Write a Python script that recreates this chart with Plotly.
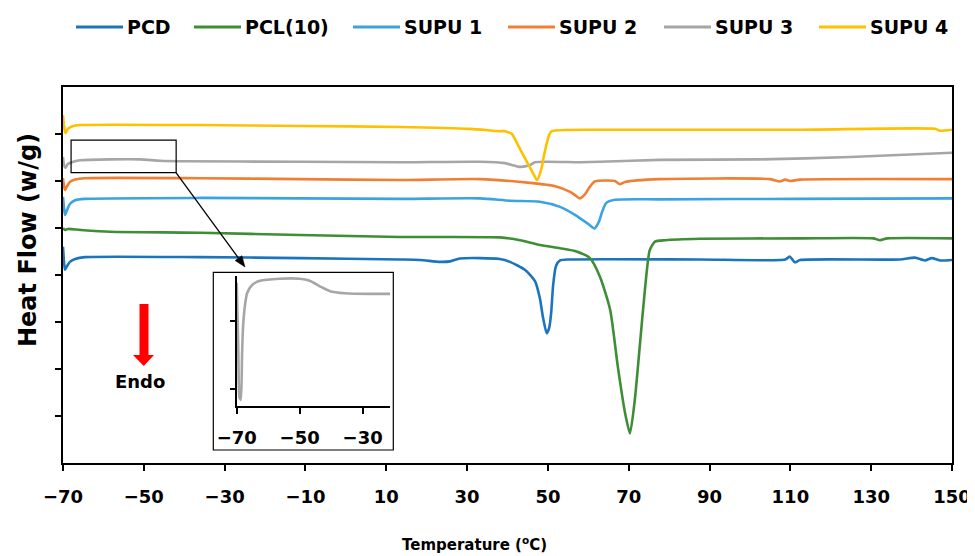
import plotly.graph_objects as go

# ---------------- data ----------------
series_names = ["PCD", "PCL(10)", "SUPU 1", "SUPU 2", "SUPU 3", "SUPU 4"]
series_colors = ["#1B75BC", "#3E8E35", "#3BA3E0", "#F07F33", "#A6A6A6", "#FFC000"]

pcd_temp = [-70, -69.75, -69.5, -69.0, -68.3, -67.0, -64.6, -36.1, -11.4, 13.4, 18.3, 23.3, 25.8, 28.2,
            33.2, 38.1, 40.6, 44.3, 46.8, 48.0, 48.8, 49.7, 50.3, 50.8, 51.3, 52.0, 53.0, 55.5, 87.6,
            108.7, 109.9, 111.1, 112.4, 137.1, 140.8, 143.3, 145.0, 147.0, 150]
pcd_heat = [4.60, 4.28, 4.11, 4.19, 4.28, 4.34, 4.38, 4.38, 4.36, 4.33, 4.32, 4.28, 4.29, 4.35,
            4.36, 4.34, 4.28, 4.11, 3.87, 3.51, 3.09, 2.76, 2.87, 3.19, 3.79, 4.19, 4.31, 4.33, 4.33,
            4.33, 4.39, 4.27, 4.32, 4.33, 4.37, 4.31, 4.36, 4.31, 4.32]

pcl_temp = [-70, -69.5, -68.8, -65.8, -58.4, -36.1, -11.4, 13.4, 38.1, 43.1, 48.0, 53.0, 56.7, 60.4,
            62.9, 65.4, 67.3, 69.1, 70.3, 71.5, 72.8, 74.0, 75.2, 76.5, 79.0, 87.6, 112.4, 130.5,
            132.2, 134.0, 150]
pcl_heat = [5.00, 4.96, 4.98, 4.96, 4.92, 4.90, 4.85, 4.81, 4.80, 4.74, 4.64, 4.57, 4.51, 4.36,
            3.96, 3.26, 2.05, 1.06, 0.63, 1.34, 2.55, 3.68, 4.53, 4.71, 4.74, 4.77, 4.78, 4.78,
            4.74, 4.78, 4.78]

supu1_temp = [-70, -69.75, -69.5, -69.0, -68.3, -67.0, -64.6, -36.1, -11.4, 13.4, 33.2, 40.6, 48.0,
              53.0, 56.7, 59.9, 61.5, 62.6, 63.4, 64.4, 66.6, 77.7, 112.4, 150]
supu1_heat = [5.66, 5.43, 5.28, 5.38, 5.51, 5.59, 5.62, 5.64, 5.63, 5.62, 5.63, 5.58, 5.56,
              5.45, 5.28, 5.09, 4.99, 5.13, 5.34, 5.53, 5.60, 5.61, 5.62, 5.63]

supu2_temp = [-70, -69.75, -69.5, -69.0, -68.3, -67.0, -64.6, -36.1, -11.4, 13.4, 33.2, 45.6, 51.8,
              55.5, 57.0, 57.9, 59.2, 60.4, 61.6, 66.6, 67.8, 69.1, 77.7, 105.0, 107.4, 108.7,
              109.9, 112.4, 150]
supu2_heat = [6.06, 5.89, 5.81, 5.89, 5.98, 6.03, 6.06, 6.06, 6.04, 6.02, 6.04, 5.96, 5.89,
              5.77, 5.68, 5.63, 5.72, 5.88, 5.99, 6.00, 5.93, 5.98, 6.04, 6.04, 5.99, 6.03,
              6.00, 6.03, 6.04]

supu3_temp = [-70, -69.75, -69.4, -68.8, -67.8, -65.8, -58.4, -50.9, -46.0, -41.0, -11.4, 13.4, 33.2,
              39.4, 43.1, 45.6, 46.8, 57.9, 62.9, 77.7, 102.5, 124.8, 150]
supu3_heat = [6.51, 6.34, 6.28, 6.36, 6.40, 6.44, 6.46, 6.46, 6.43, 6.42, 6.41, 6.40, 6.41,
              6.38, 6.30, 6.34, 6.40, 6.40, 6.41, 6.45, 6.46, 6.51, 6.60]

supu4_temp = [-70, -69.75, -69.4, -68.8, -67.8, -65.8, -36.1, -11.4, 13.4, 30.7, 38.1, 39.4, 40.1,
              41.1, 43.1, 45.1, 46.3, 47.3, 48.3, 49.0, 49.8, 50.3, 51.0, 62.9, 112.4, 145.8,
              147.0, 150]
supu4_heat = [7.40, 7.17, 7.02, 7.11, 7.16, 7.19, 7.19, 7.17, 7.15, 7.11, 7.06, 7.06, 7.04,
              7.00, 6.68, 6.36, 6.17, 6.02, 6.23, 6.53, 6.83, 6.98, 7.06, 7.09, 7.09, 7.11,
              7.07, 7.09]

# inset: magnified start of SUPU 3
inset_temp = [-70, -69.5, -69.1, -68.7, -68.3, -68.0, -67.3, -66.7, -65.1, -62.6, -56.3, -50.0,
              -46.8, -43.6, -40.4, -35.6, -27.7, -21.3]
inset_heat = [1.55, 0.60, -0.12, -0.15, 0.50, 0.90, 1.25, 1.40, 1.52, 1.58, 1.61, 1.61,
              1.58, 1.50, 1.43, 1.40, 1.39, 1.39]

x_ticks = [-70, -50, -30, -10, 10, 30, 50, 70, 90, 110, 130, 150]
inset_x_ticks = [-70, -50, -30]

all_temp = [pcd_temp, pcl_temp, supu1_temp, supu2_temp, supu3_temp, supu4_temp]
all_heat = [pcd_heat, pcl_heat, supu1_heat, supu2_heat, supu3_heat, supu4_heat]

# ---------------- figure ----------------
# the page body has an 8px margin, so the figure is made 8px smaller and
# all screen positions below are given in window pixels
OFF = 8
W, H = 975 - OFF, 556 - OFF
PLOT_L, PLOT_R, PLOT_T, PLOT_B = 63, 952, 87, 463       # plot box in window px
L, T = PLOT_L - OFF, PLOT_T - OFF
R, B = W - (PLOT_R - OFF), H - (PLOT_B - OFF)
PW, PH = PLOT_R - PLOT_L, PLOT_B - PLOT_T


def px(x):
    return (x - PLOT_L) / PW


def py(y):
    return (PLOT_B - y) / PH


FONT = "DejaVu Sans"
LINE = dict(width=2.6, shape="spline", smoothing=0.6)

fig = go.Figure()
for name, color, tx, hy in zip(series_names, series_colors, all_temp, all_heat):
    fig.add_trace(go.Scatter(x=tx, y=hy, mode="lines", name=name,
                             line=dict(color=color, **LINE), showlegend=False))

fig.add_trace(go.Scatter(x=inset_temp, y=inset_heat, mode="lines", xaxis="x2", yaxis="y2",
                         line=dict(color=series_colors[4], **LINE), showlegend=False,
                         name="SUPU 3 (inset)"))

axis_common = dict(showline=True, linecolor="black", linewidth=2, showgrid=False, zeroline=False,
                   ticks="outside", tickcolor="black", tickwidth=2, automargin=False)

fig.update_layout(
    width=W, height=H,
    margin=dict(l=L, r=R, t=T, b=B, autoexpand=False),
    paper_bgcolor="white", plot_bgcolor="white",
    showlegend=False,
    xaxis=dict(range=[-70, 150], tickvals=x_ticks, ticklen=6, mirror=True,
               ticklabelstandoff=10,
               tickfont=dict(family=FONT, size=18, color="black", weight="bold"), **axis_common),
    yaxis=dict(range=[0, 8], tickvals=[1, 2, 3, 4, 5, 6, 7], ticklen=6, mirror=True,
               showticklabels=False, **axis_common),
    xaxis2=dict(domain=[px(236.7), px(390)], anchor="y2", range=[-70, -21.3],
                tickvals=inset_x_ticks, ticklen=6, ticklabelstandoff=8,
                tickfont=dict(family=FONT, size=18, color="black", weight="bold"), **axis_common),
    yaxis2=dict(domain=[py(406), py(276)], anchor="x2", range=[-0.24, 1.65],
                tickvals=[0, 1], ticklen=5, showticklabels=False, **axis_common),
)

shapes = []
annotations = []

# legend across the top
legend_x = [76, 194, 353, 508, 664, 819]
for name, color, lx in zip(series_names, series_colors, legend_x):
    shapes.append(dict(type="line", xref="paper", yref="paper", x0=px(lx), x1=px(lx + 47),
                       y0=py(27), y1=py(27), line=dict(color=color, width=3)))
    annotations.append(dict(text=name, xref="paper", yref="paper", x=px(lx + 49), y=py(27),
                            xanchor="left", yanchor="middle", showarrow=False,
                            font=dict(family=FONT, size=19, color="black", weight="bold")))

# zoom rectangle on SUPU 3 and inset frame
shapes.append(dict(type="rect", xref="x", yref="y", x0=-68.0, x1=-42.0, y0=6.18, y1=6.87,
                   line=dict(color="black", width=1.2), fillcolor="rgba(0,0,0,0)"))
shapes.append(dict(type="rect", xref="paper", yref="paper", x0=px(213.3), x1=px(393.3),
                   y0=py(450), y1=py(272.3), line=dict(color="black", width=1.2),
                   fillcolor="rgba(0,0,0,0)", layer="above"))

# connector arrow from the zoom rectangle to the inset
tail_x, tail_y, tip_x, tip_y = 176, 172.7, 245, 267
dx, dy = tip_x - tail_x, tip_y - tail_y
ln = (dx * dx + dy * dy) ** 0.5
ux, uy = dx / ln, dy / ln
head_len, head_hw = 11, 4.2
bx, by = tip_x - head_len * ux, tip_y - head_len * uy
shapes.append(dict(type="line", xref="paper", yref="paper", x0=px(tail_x), y0=py(tail_y),
                   x1=px(bx), y1=py(by), line=dict(color="black", width=1.3)))
head = (f"M {px(tip_x)} {py(tip_y)} L {px(bx - head_hw * uy)} {py(by + head_hw * ux)} "
        f"L {px(bx + head_hw * uy)} {py(by - head_hw * ux)} Z")
shapes.append(dict(type="path", xref="paper", yref="paper", path=head,
                   fillcolor="black", line=dict(color="black", width=0.5)))

# red "Endo" arrow
ax_l, ax_r, hx_l, hx_r, cx = 139.5, 148.5, 133, 154, 143.8
path = (f"M {px(ax_l)} {py(304)} L {px(ax_r)} {py(304)} L {px(ax_r)} {py(355)} "
        f"L {px(hx_r)} {py(355)} L {px(cx)} {py(366)} L {px(hx_l)} {py(355)} "
        f"L {px(ax_l)} {py(355)} Z")
shapes.append(dict(type="path", xref="paper", yref="paper", path=path,
                   fillcolor="#FF0000", line=dict(color="#FF0000", width=0)))
annotations.append(dict(text="Endo", xref="paper", yref="paper", x=px(140), y=py(381),
                        xanchor="center", yanchor="middle", showarrow=False,
                        font=dict(family=FONT, size=18, color="black", weight="bold")))

# axis titles
annotations.append(dict(text="Heat Flow (w/g)", xref="paper", yref="paper", x=px(28), y=py(240),
                        textangle=-90, xanchor="center", yanchor="middle", showarrow=False,
                        font=dict(family=FONT, size=24, color="black", weight="bold")))
annotations.append(dict(text="Temperature (<sup>o</sup>C)", xref="paper", yref="paper",
                        x=px(474), y=py(544), xanchor="center", yanchor="middle",
                        showarrow=False,
                        font=dict(family=FONT, size=15, color="black", weight="bold")))

fig.update_layout(shapes=shapes, annotations=annotations)
fig.write_html("out.html")
